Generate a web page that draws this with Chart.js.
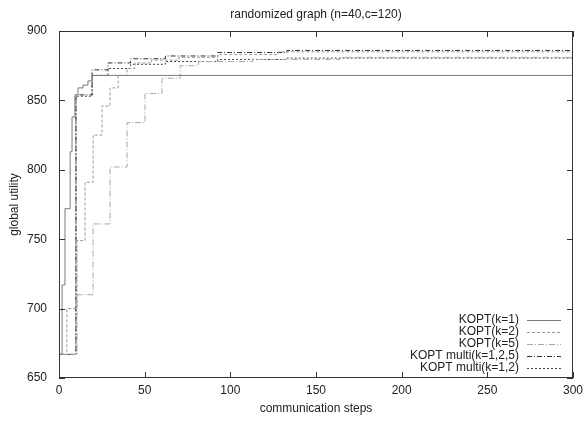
<!DOCTYPE html>
<html>
<head>
<meta charset="utf-8">
<script src="https://cdn.jsdelivr.net/npm/chart.js@4/dist/chart.umd.min.js"></script>
<style>
  html, body { margin: 0; padding: 0; background: #fff; }
  #wrap { width: 587px; height: 431px; }
</style>
</head>
<body>
<div id="wrap"><canvas id="chart"></canvas></div>
<script>
// step series: x = communication step where the value changes, y = global utility from there on
const k1X = [0, 1.8, 3.5, 6.5, 7.6, 9.3, 11.1, 14, 16.9, 19.3, 300];
const k1Y = [667, 717, 772, 813, 838, 854, 859, 861, 864, 868, 868];

const k2X = [0, 4.6, 10.5, 15.2, 19.9, 25.1, 29.8, 34.5, 39.7, 44.4, 54, 70, 92.6, 128, 300];
const k2Y = [667, 700, 749, 791, 825, 846, 859, 868, 873, 877, 879, 881, 883, 885, 885];

const k5X = [0, 10.5, 19.9, 29.8, 39.7, 50.2, 60.1, 70.7, 81.4, 113, 164, 300];
const k5Y = [667, 710, 761, 802, 834, 855, 866, 875, 878, 879.5, 881, 881];

const m125X = [0, 9.9, 19.3, 28.6, 41.8, 62.1, 92.6, 133, 300];
const m125Y = [667, 854, 872, 877, 880, 882, 884.5, 886, 886];

const m12X = [0, 9.9, 19.3, 28.6, 41.8, 62.1, 92.6, 133, 300];
const m12Y = [667, 853, 868, 873, 876, 878, 879.5, 880.5, 880.5];

const xTicks = [0, 50, 100, 150, 200, 250, 300];
const yTicks = [650, 700, 750, 800, 850, 900];

const FONT = '"Liberation Sans", Arial, sans-serif';

function pts(xs, ys) { return xs.map((x, i) => ({ x, y: ys[i] })); }

function series(label, xs, ys, color, dash, width) {
  return {
    label, data: pts(xs, ys),
    borderColor: color, borderDash: dash, borderWidth: width,
    stepped: true, pointRadius: 0, fill: false,
  };
}

const datasets = [
  series('KOPT(k=1)', k1X, k1Y, '#7a7a7a', [], 1),
  series('KOPT(k=2)', k2X, k2Y, '#9a9a9a', [3, 2], 1),
  series('KOPT(k=5)', k5X, k5Y, '#a8a8a8', [6, 2, 1, 2], 1),
  series('KOPT multi(k=1,2,5)', m125X, m125Y, '#333', [5, 2, 1, 2], 1),
  series('KOPT multi(k=1,2)', m12X, m12Y, '#444', [2, 2], 1),
];

// frame, inward ticks, title and gnuplot-like legend
const gnuplotLook = {
  id: 'gnuplotLook',
  afterDraw(chart) {
    const { ctx, chartArea: a, scales: { x, y } } = chart;
    ctx.save();
    ctx.strokeStyle = '#333';
    ctx.lineWidth = 1;
    ctx.setLineDash([]);
    ctx.strokeRect(a.left + 0.5, a.top + 0.5, a.right - a.left - 1, a.bottom - a.top - 1);
    ctx.beginPath();
    xTicks.forEach(v => {
      const px = Math.round(x.getPixelForValue(v)) + 0.5;
      ctx.moveTo(px, a.bottom); ctx.lineTo(px, a.bottom - 6);
      ctx.moveTo(px, a.top); ctx.lineTo(px, a.top + 6);
    });
    yTicks.forEach(v => {
      const py = Math.round(y.getPixelForValue(v)) + 0.5;
      ctx.moveTo(a.left, py); ctx.lineTo(a.left + 6, py);
      ctx.moveTo(a.right, py); ctx.lineTo(a.right - 6, py);
    });
    ctx.stroke();

    ctx.fillStyle = '#222';
    ctx.font = '12px ' + FONT;
    ctx.textAlign = 'center';
    ctx.textBaseline = 'middle';
    ctx.fillText('randomized graph (n=40,c=120)', (a.left + a.right) / 2, 15);

    // legend
    ctx.textAlign = 'right';
    chart.data.datasets.forEach((ds, i) => {
      const ly = 320 + i * 12;
      ctx.fillStyle = '#222';
      ctx.fillText(ds.label, 519, ly);
      ctx.beginPath();
      ctx.strokeStyle = ds.borderColor;
      ctx.lineWidth = ds.borderWidth;
      ctx.setLineDash(ds.borderDash);
      ctx.moveTo(527, Math.round(ly) + 0.5);
      ctx.lineTo(561, Math.round(ly) + 0.5);
      ctx.stroke();
    });
    ctx.restore();
  }
};

new Chart(document.getElementById('chart'), {
  type: 'line',
  data: { datasets },
  options: {
    responsive: true,
    maintainAspectRatio: false,
    animation: false,
    layout: { padding: { top: 31, right: 14, left: 0, bottom: 0 } },
    plugins: { legend: { display: false }, tooltip: { enabled: false } },
    scales: {
      x: {
        type: 'linear', min: 0, max: 300,
        afterBuildTicks: s => { s.ticks = xTicks.map(v => ({ value: v })); },
        afterFit: s => { s.height = 53; s.paddingLeft = 0; s.paddingRight = 0; },
        grid: { display: false, drawTicks: false },
        border: { display: false },
        ticks: { color: '#222', font: { family: FONT, size: 12 }, padding: 5, maxRotation: 0 },
        title: { display: true, text: 'communication steps', color: '#222',
                 font: { family: FONT, size: 12 }, padding: { top: 15, bottom: 15 } },
      },
      y: {
        type: 'linear', min: 650, max: 900,
        afterBuildTicks: s => { s.ticks = yTicks.map(v => ({ value: v })); },
        afterFit: s => { s.width = 59; s.paddingTop = 0; s.paddingBottom = 0; },
        grid: { display: false, drawTicks: false },
        border: { display: false },
        ticks: { color: '#222', font: { family: FONT, size: 12 }, padding: 12 },
        title: { display: true, text: 'global utility', color: '#222',
                 font: { family: FONT, size: 12 }, padding: { top: 7, bottom: 7 } },
      },
    },
  },
  plugins: [gnuplotLook],
});
</script>
</body>
</html>
